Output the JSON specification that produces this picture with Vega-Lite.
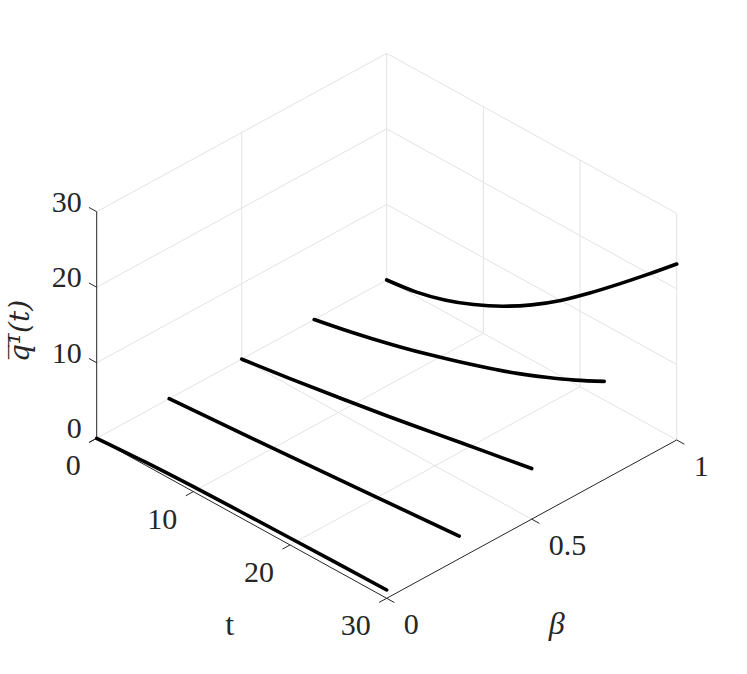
{
  "$schema": "https://vega.github.io/schema/vega-lite/v6.json",
  "width": 747,
  "height": 674,
  "autosize": "none",
  "padding": 0,
  "background": "white",
  "config": {"view": {"stroke": null}},
  "data": {"values": [
    {"kind":"grid","id":"f0","t":0,"b":0,"q":0},{"kind":"grid","id":"f0","t":0,"b":1,"q":0},
    {"kind":"grid","id":"f10","t":10,"b":0,"q":0},{"kind":"grid","id":"f10","t":10,"b":1,"q":0},
    {"kind":"grid","id":"f20","t":20,"b":0,"q":0},{"kind":"grid","id":"f20","t":20,"b":1,"q":0},
    {"kind":"grid","id":"fb05","t":0,"b":0.5,"q":0},{"kind":"grid","id":"fb05","t":30,"b":0.5,"q":0},
    {"kind":"grid","id":"fb1","t":0,"b":1,"q":0},{"kind":"grid","id":"fb1","t":30,"b":1,"q":0},
    {"kind":"grid","id":"w0b05","t":0,"b":0.5,"q":0},{"kind":"grid","id":"w0b05","t":0,"b":0.5,"q":30},
    {"kind":"grid","id":"w0b1","t":0,"b":1,"q":0},{"kind":"grid","id":"w0b1","t":0,"b":1,"q":30},
    {"kind":"grid","id":"w0q10","t":0,"b":0,"q":10},{"kind":"grid","id":"w0q10","t":0,"b":1,"q":10},
    {"kind":"grid","id":"w0q20","t":0,"b":0,"q":20},{"kind":"grid","id":"w0q20","t":0,"b":1,"q":20},
    {"kind":"grid","id":"w0q30","t":0,"b":0,"q":30},{"kind":"grid","id":"w0q30","t":0,"b":1,"q":30},
    {"kind":"grid","id":"w1t10","t":10,"b":1,"q":0},{"kind":"grid","id":"w1t10","t":10,"b":1,"q":30},
    {"kind":"grid","id":"w1t20","t":20,"b":1,"q":0},{"kind":"grid","id":"w1t20","t":20,"b":1,"q":30},
    {"kind":"grid","id":"w1t30","t":30,"b":1,"q":0},{"kind":"grid","id":"w1t30","t":30,"b":1,"q":30},
    {"kind":"grid","id":"w1q10","t":0,"b":1,"q":10},{"kind":"grid","id":"w1q10","t":30,"b":1,"q":10},
    {"kind":"grid","id":"w1q20","t":0,"b":1,"q":20},{"kind":"grid","id":"w1q20","t":30,"b":1,"q":20},
    {"kind":"grid","id":"w1q30","t":0,"b":1,"q":30},{"kind":"grid","id":"w1q30","t":30,"b":1,"q":30},

    {"kind":"axis","id":"at","t":0,"b":0,"q":0},{"kind":"axis","id":"at","t":30,"b":0,"q":0},
    {"kind":"axis","id":"ab","t":30,"b":0,"q":0},{"kind":"axis","id":"ab","t":30,"b":1,"q":0},
    {"kind":"axis","id":"aq","t":0,"b":0,"q":0},{"kind":"axis","id":"aq","t":0,"b":0,"q":30},
    {"kind":"axis","id":"tt0","t":0,"b":0,"q":0},{"kind":"axis","id":"tt0","t":0,"b":-0.026,"q":0},
    {"kind":"axis","id":"tt10","t":10,"b":0,"q":0},{"kind":"axis","id":"tt10","t":10,"b":-0.026,"q":0},
    {"kind":"axis","id":"tt20","t":20,"b":0,"q":0},{"kind":"axis","id":"tt20","t":20,"b":-0.026,"q":0},
    {"kind":"axis","id":"tt30","t":30,"b":0,"q":0},{"kind":"axis","id":"tt30","t":30,"b":-0.026,"q":0},
    {"kind":"axis","id":"tb0","t":30,"b":0,"q":0},{"kind":"axis","id":"tb0","t":30.8,"b":0,"q":0},
    {"kind":"axis","id":"tb05","t":30,"b":0.5,"q":0},{"kind":"axis","id":"tb05","t":30.8,"b":0.5,"q":0},
    {"kind":"axis","id":"tb1","t":30,"b":1,"q":0},{"kind":"axis","id":"tb1","t":30.8,"b":1,"q":0},
    {"kind":"axis","id":"tq0","t":0,"b":0,"q":0},{"kind":"axis","id":"tq0","t":0,"b":-0.026,"q":0},
    {"kind":"axis","id":"tq10","t":0,"b":0,"q":10},{"kind":"axis","id":"tq10","t":-0.8,"b":0,"q":10},
    {"kind":"axis","id":"tq20","t":0,"b":0,"q":20},{"kind":"axis","id":"tq20","t":-0.8,"b":0,"q":20},
    {"kind":"axis","id":"tq30","t":0,"b":0,"q":30},{"kind":"axis","id":"tq30","t":-0.8,"b":0,"q":30},

    {"kind":"curve","b":0,"t":0,"q":0},{"kind":"curve","b":0,"t":5,"q":0.4},{"kind":"curve","b":0,"t":10,"q":0.65},{"kind":"curve","b":0,"t":15,"q":0.8},{"kind":"curve","b":0,"t":20,"q":0.92},{"kind":"curve","b":0,"t":25,"q":1.02},{"kind":"curve","b":0,"t":30,"q":1.1},
    {"kind":"curve","b":0.25,"t":0,"q":0},{"kind":"curve","b":0.25,"t":10,"q":0.95},{"kind":"curve","b":0.25,"t":20,"q":1.95},{"kind":"curve","b":0.25,"t":30,"q":3.0},
    {"kind":"curve","b":0.5,"t":0,"q":0},{"kind":"curve","b":0.5,"t":5,"q":0.95},{"kind":"curve","b":0.5,"t":10,"q":2.0},{"kind":"curve","b":0.5,"t":15,"q":3.1},{"kind":"curve","b":0.5,"t":20,"q":4.3},{"kind":"curve","b":0.5,"t":25,"q":5.5},{"kind":"curve","b":0.5,"t":30,"q":6.7},
    {"kind":"curve","b":0.75,"t":0,"q":0},{"kind":"curve","b":0.75,"t":3,"q":0.8},{"kind":"curve","b":0.75,"t":6,"q":1.7},{"kind":"curve","b":0.75,"t":9,"q":2.7},{"kind":"curve","b":0.75,"t":12,"q":3.8},{"kind":"curve","b":0.75,"t":15,"q":5.0},{"kind":"curve","b":0.75,"t":18,"q":6.3},{"kind":"curve","b":0.75,"t":21,"q":7.7},{"kind":"curve","b":0.75,"t":24,"q":9.3},{"kind":"curve","b":0.75,"t":27,"q":11.05},{"kind":"curve","b":0.75,"t":30,"q":13.0},
    {"kind":"curve","b":1,"t":0,"q":0},{"kind":"curve","b":1,"t":3,"q":0.55},{"kind":"curve","b":1,"t":6,"q":1.6},{"kind":"curve","b":1,"t":9,"q":3.1},{"kind":"curve","b":1,"t":12,"q":5.0},{"kind":"curve","b":1,"t":15,"q":7.3},{"kind":"curve","b":1,"t":18,"q":10.0},{"kind":"curve","b":1,"t":21,"q":13.1},{"kind":"curve","b":1,"t":24,"q":16.4},{"kind":"curve","b":1,"t":27,"q":19.8},{"kind":"curve","b":1,"t":30,"q":23.3},

    {"kind":"tlab","t":0,"b":0,"q":0,"label":"0"},{"kind":"tlab","t":10,"b":0,"q":0,"label":"10"},{"kind":"tlab","t":20,"b":0,"q":0,"label":"20"},{"kind":"tlab","t":30,"b":0,"q":0,"label":"30"},
    {"kind":"blab","t":30,"b":0,"q":0,"label":"0"},{"kind":"blab","t":30,"b":0.5,"q":0,"label":"0.5"},{"kind":"blab","t":30,"b":1,"q":0,"label":"1"},
    {"kind":"qlab","t":0,"b":0,"q":0,"label":"0"},{"kind":"qlab","t":0,"b":0,"q":10,"label":"10"},{"kind":"qlab","t":0,"b":0,"q":20,"label":"20"},{"kind":"qlab","t":0,"b":0,"q":30,"label":"30"},
    {"kind":"ttitle","t":15,"b":0,"q":0,"label":"t"},
    {"kind":"btitle","t":30,"b":0.5,"q":0,"label":"β"},
    {"kind":"qtitle","t":0,"b":0,"q":15,"label":"q̅¹̅(t)"}
  ]},
  "transform": [
    {"calculate": "datum.t/30 + datum.b", "as": "u"},
    {"calculate": "-0.5517*datum.t/30 + 0.5459*datum.b + 0.7814*datum.q/30", "as": "v"}
  ],
  "encoding": {
    "x": {"field": "u", "type": "quantitative", "scale": {"domain": [-0.3334, 2.2424], "nice": false, "zero": false}, "axis": null},
    "y": {"field": "v", "type": "quantitative", "scale": {"domain": [-0.8128, 1.5114], "nice": false, "zero": false}, "axis": null}
  },
  "layer": [
    {
      "transform": [{"filter": "datum.kind == 'grid'"}],
      "mark": {"type": "line", "color": "#e3e3e3", "strokeWidth": 1},
      "encoding": {"detail": {"field": "id"}}
    },
    {
      "transform": [{"filter": "datum.kind == 'axis'"}],
      "mark": {"type": "line", "color": "#262626", "strokeWidth": 1},
      "encoding": {"detail": {"field": "id"}}
    },
    {
      "transform": [{"filter": "datum.kind == 'curve'"}],
      "mark": {"type": "line", "color": "#000000", "strokeWidth": 3.6, "strokeCap": "round", "interpolate": "monotone"},
      "encoding": {"detail": {"field": "b"}}
    },
    {
      "transform": [{"filter": "datum.kind == 'tlab'"}],
      "mark": {"type": "text", "align": "right", "baseline": "middle", "dx": -16, "dy": 28, "font": "Liberation Serif", "fontSize": 30, "color": "#262626"},
      "encoding": {"text": {"field": "label"}}
    },
    {
      "transform": [{"filter": "datum.kind == 'blab'"}],
      "mark": {"type": "text", "align": "left", "baseline": "middle", "dx": 17, "dy": 27, "font": "Liberation Serif", "fontSize": 30, "color": "#262626"},
      "encoding": {"text": {"field": "label"}}
    },
    {
      "transform": [{"filter": "datum.kind == 'qlab'"}],
      "mark": {"type": "text", "align": "right", "baseline": "middle", "dx": -15, "dy": -9, "font": "Liberation Serif", "fontSize": 30, "color": "#262626"},
      "encoding": {"text": {"field": "label"}}
    },
    {
      "transform": [{"filter": "datum.kind == 'ttitle'"}],
      "mark": {"type": "text", "align": "center", "baseline": "middle", "dx": -12, "dy": 107, "font": "Liberation Serif", "fontSize": 32, "color": "#262626"},
      "encoding": {"text": {"field": "label"}}
    },
    {
      "transform": [{"filter": "datum.kind == 'btitle'"}],
      "mark": {"type": "text", "align": "center", "baseline": "middle", "dx": 25, "dy": 105, "font": "Liberation Serif", "fontStyle": "italic", "fontSize": 32, "color": "#262626"},
      "encoding": {"text": {"field": "label"}}
    },
    {
      "transform": [{"filter": "datum.kind == 'qtitle'"}],
      "mark": {"type": "text", "align": "center", "baseline": "middle", "angle": 270, "dx": -6, "dy": -76, "font": "DejaVu Serif", "fontStyle": "italic", "fontSize": 28, "color": "#262626"},
      "encoding": {"text": {"field": "label"}}
    }
  ]
}
